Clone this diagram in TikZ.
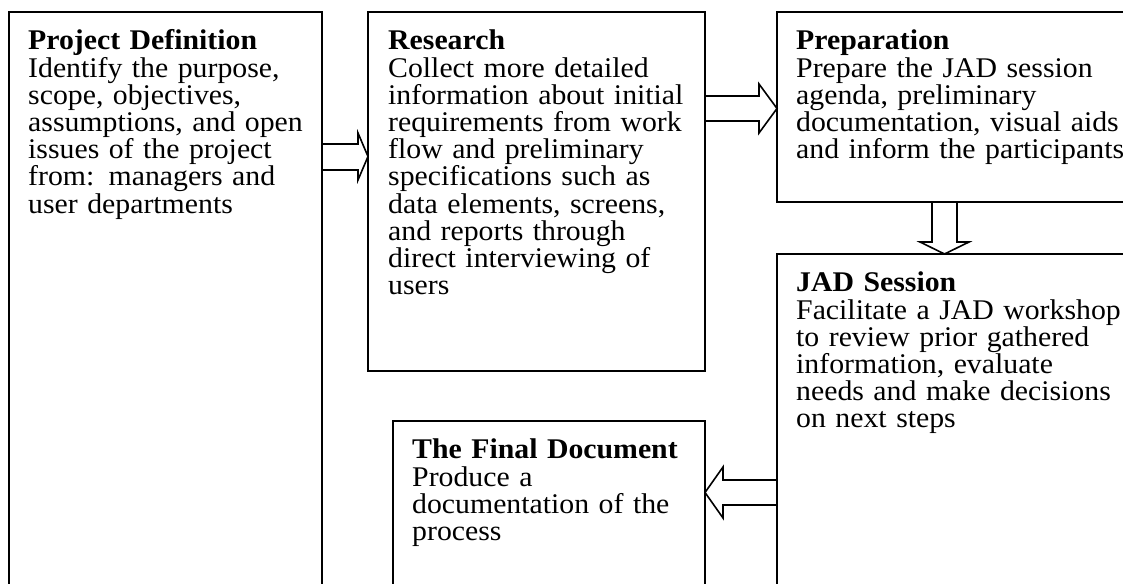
\documentclass[tikz,border=0pt]{standalone}
\usepackage{fontspec}
\setmainfont{Liberation Serif}[FakeStretch=1.045]
\begin{document}
\lineskiplimit=-100pt
\begin{tikzpicture}[x=1pt,y=1pt,
  box/.style={draw, line width=1.6pt, inner sep=0pt, outer sep=0pt, anchor=north west},
  boxtext/.style={anchor=base west, inner sep=0pt, align=left, text width=420pt,
    font=\fontsize{28.5}{27.2}\selectfont},
  blockarrow/.style={draw, line width=1.6pt, line join=miter}]
\clip (0,0) rectangle (1123,583);
\fill[white] (0,0) rectangle (1123,583);

% process boxes (the lower ones run past the page edge)
\node[box, minimum width=313pt, minimum height=600pt] (def) at (9,571) {};
\node[box, minimum width=337pt, minimum height=359pt] (res) at (368,571) {};
\node[box, minimum width=360pt, minimum height=190pt] (prep) at (777,571) {};
\node[box, minimum width=360pt, minimum height=400pt] (jad) at (777,329) {};
\node[box, minimum width=312pt, minimum height=200pt] (fin) at (393,162) {};

% box contents
\node[boxtext] (tdef) at ([shift={(19,-38)}]def.north west)
  {\textbf{Project Definition}\\Identify the purpose,\\scope, objectives,\\assumptions, and open\\issues of the project\\from: managers and\\user departments};
\node[boxtext] (tres) at ([shift={(20,-38)}]res.north west)
  {\textbf{Research}\\Collect more detailed\\information about initial\\requirements from work\\flow and preliminary\\specifications such as\\data elements, screens,\\and reports through\\direct interviewing of\\users};
\node[boxtext] (tprep) at ([shift={(19,-38)}]prep.north west)
  {\textbf{Preparation}\\Prepare the JAD session\\agenda, preliminary\\documentation, visual aids\\and inform the participants};
\node[boxtext] (tjad) at ([shift={(19,-38)}]jad.north west)
  {\textbf{JAD Session}\\Facilitate a JAD workshop\\to review prior gathered\\information, evaluate\\needs and make decisions\\on next steps};
\node[boxtext] (tfin) at ([shift={(19,-38)}]fin.north west)
  {\textbf{The Final Document}\\Produce a\\documentation of the\\process};

% block arrows between the boxes
\draw[blockarrow] (def.east |- 0,439) -- (358,439) -- (358,450) -- (res.west |- 0,426.5)
  -- (358,403) -- (358,413) -- (def.east |- 0,413);
\draw[blockarrow] (res.east |- 0,487) -- (759,487) -- (759,499) -- (prep.west |- 0,474.5)
  -- (759,450) -- (759,462) -- (res.east |- 0,462);
\draw[blockarrow] (932,0 |- prep.south) -- (932,341) -- (920,341) -- (944.5,0 |- jad.north)
  -- (969,341) -- (957,341) -- (957,0 |- prep.south);
\draw[blockarrow] (jad.west |- 0,103) -- (723,103) -- (723,116) -- (fin.east |- 0,90.5)
  -- (723,65) -- (723,78) -- (jad.west |- 0,78);
\end{tikzpicture}
\end{document}
